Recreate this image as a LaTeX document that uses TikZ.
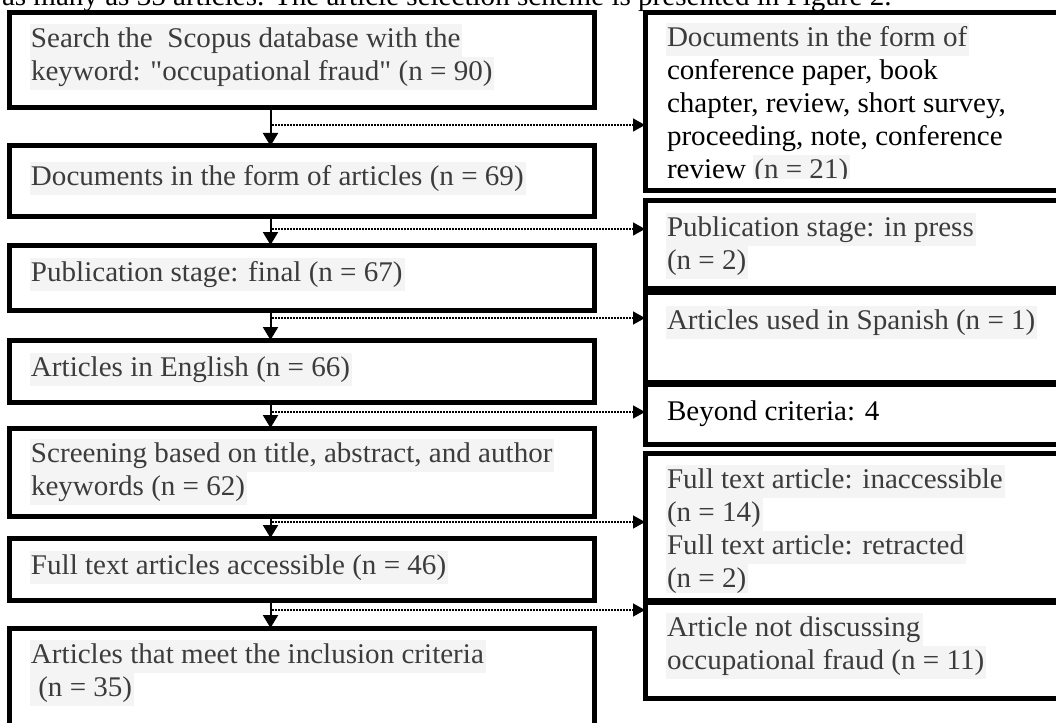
\documentclass[tikz,border=0pt]{standalone}
\usepackage{fontspec}
\setmainfont{Liberation Serif}[FakeStretch=1.02]
\newfontfamily\plainq{Liberation Serif}[FakeStretch=1.02, Ligatures=ResetAll]
\usetikzlibrary{arrows.meta}
\definecolor{hlgray}{HTML}{F4F4F4}
\definecolor{inkgray}{HTML}{3C3C3C}
\newcommand{\boxfont}{\fontsize{28.5pt}{33pt}\selectfont}
\newcommand{\hlstrut}{\rule[-9.5pt]{0pt}{33pt}}
\newcommand{\hlline}[1]{{\setlength{\fboxsep}{0pt}\colorbox{hlgray}{\hlstrut\kern1pt\textcolor{inkgray}{#1}\kern2pt}}}
\newcommand{\blkline}[1]{\hlstrut\kern1pt #1}
\newcommand{\dq}{{\plainq\char34}}
\tikzset{inner sep=0pt, outer sep=0pt}

\begin{document}
\begin{tikzpicture}[x=1pt, y=-1pt,
  box/.style={draw, line width=5pt, anchor=north west},
  txt/.style={anchor=north west, align=left, font=\boxfont},
  flowarrow/.style={line width=2pt, -{Triangle[length=13pt,width=15pt]}},
  sidearrow/.style={line width=1.5pt, dash pattern=on 1.5pt off 1.5pt, -{Triangle[length=12pt,width=13pt]}}]
\path[use as bounding box, fill=white] (0,0) rectangle (1056,722);
\clip (0,0) rectangle (1056,722);
\node[anchor=base west, font=\boxfont] (lead) at (2,6) {as many as 35 articles. The article selection scheme is presented in Figure 2.};
% left column
\foreach \n/\ya/\yb in {1/13/108, 2/146/216, 3/245/310, 4/340/402, 5/428/516, 6/538/600, 7/628/760}
  \node[box, minimum width=585pt, minimum height={(\yb-\ya)*1pt}] (L\n) at (9,\ya) {};
% right column
\foreach \n/\ya/\yb in {1/13/190, 2/200/288, 3/292/382, 4/384/444, 5/453/600, 6/602/698}
  \node[box, minimum width=435pt, minimum height={(\yb-\ya)*1pt}] (R\n) at (645,\ya) {};
\foreach \a/\b/\d in {1/2/125, 2/3/229, 3/4/318, 4/5/412, 5/6/522, 6/7/610} {
  \draw[flowarrow] ([xshift=-31pt]L\a.south) -- ([xshift=-31pt]L\b.north);
  \coordinate (s\a) at (272,\d);
  \draw[sidearrow] (s\a) -- (s\a -| R\a.west);
} % end of \foreach \a
\node[txt] (L1t) at (30,24) {\hlline{Search the\ \ Scopus database with the}\\\hlline{keyword: \dq occupational fraud\dq\ (n = 90)}};
\node[txt] (L2t) at (30,162) {\hlline{Documents in the form of articles (n = 69)}};
\node[txt] (L3t) at (30,258) {\hlline{Publication stage: final (n = 67)}};
\node[txt] (L4t) at (30,353) {\hlline{Articles in English (n = 66)}};
\node[txt] (L5t) at (30,439) {\hlline{Screening based on title, abstract, and author}\\\hlline{keywords (n = 62)}};
\node[txt] (L6t) at (30,551) {\hlline{Full text articles accessible (n = 46)}};
\node[txt] (L7t) at (30,640) {\hlline{Articles that meet the inclusion criteria}\\\hlline{\ (n = 35)}};
\begin{scope}
  \clip (R1.north west) rectangle ([yshift=12pt]R1.south east);
  \node[txt] (R1t) at (666,23) {\hlline{Documents in the form of}\\\blkline{conference paper, book}\\\blkline{chapter, review, short survey,}\\\blkline{proceeding, note, conference}\\\blkline{review} \hlline{(n = 21)}};
\end{scope}
\node[txt] (R2t) at (666,213) {\hlline{Publication stage: in press}\\\hlline{(n = 2)}};
\node[txt] (R3t) at (666,306) {\hlline{Articles used in Spanish (n = 1)}};
\node[txt] (R4t) at (666,397) {\blkline{Beyond criteria: 4}};
\begin{scope}
  \clip (R5.north west) rectangle ([yshift=8pt]R5.south east);
  \node[txt] (R5t) at (666,465) {\hlline{Full text article: inaccessible}\\\hlline{(n = 14)}\\\hlline{Full text article: retracted}\\\hlline{(n = 2)}};
\end{scope}
\node[txt] (R6t) at (666,613) {\hlline{Article not discussing}\\\hlline{occupational fraud (n = 11)}};
\end{tikzpicture}
\end{document}
